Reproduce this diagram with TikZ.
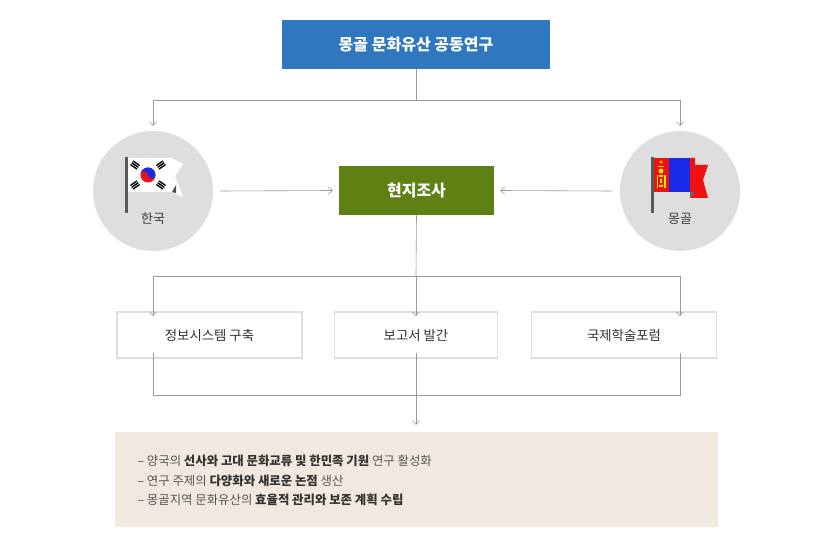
\documentclass[tikz,border=0pt]{standalone}
\usepackage{fontspec}
\setmainfont{Noto Sans CJK KR}
\usetikzlibrary{arrows.meta}
\definecolor{tblue}{HTML}{2F78C0}
\definecolor{tgreen}{HTML}{5F8012}
\definecolor{circ}{HTML}{DEDEDE}
\definecolor{lineg}{HTML}{9A9A9A}
\definecolor{beige}{HTML}{F1E9DF}
\definecolor{txt}{HTML}{555555}
\definecolor{mred}{HTML}{F01010}
\definecolor{mblue}{HTML}{1A2BE8}
\begin{document}
\begin{tikzpicture}[x=1pt,y=-1pt,
 conn/.style={draw=lineg,line width=0.6pt},
 arr/.style={conn,-{Straight Barb[length=4pt,width=7pt]}},
 hbox/.style={minimum width=268pt,minimum height=49pt,inner sep=0pt,text=white,font=\fontsize{16}{18}\selectfont\bfseries},
 wbox/.style={draw=circ,line width=1.6pt,fill=white,minimum width=185pt,minimum height=46pt,inner sep=0pt,text=black!80,font=\fontsize{13.4}{15}\selectfont},
 circle node/.style={circle,fill=circ,minimum size=120pt,inner sep=0pt},
 lbl/.style={font=\fontsize{13}{15}\selectfont,text=black!75},
 sline/.style={anchor=west,text=txt,font=\fontsize{12.4}{14}\selectfont}]
\useasboundingbox (0,0) rectangle (830,548);
\node[hbox,fill=tblue] (top) at (416,44.5) {몽골 문화유산 공동연구};
\node[circle node] (kr) at (153,191) {};
\node[circle node] (mn) at (680,191) {};
\node[hbox,fill=tgreen,minimum width=155pt] (field) at (416.5,190.5) {현지조사};
\node[wbox] (b1) at (209.5,335) {정보시스템 구축};
\node[wbox,minimum width=163pt] (b2) at (416,335) {보고서 발간};
\node[wbox] (b3) at (624,335) {국제학술포럼};
\node[lbl] (krl) at (153,219) {한국};
\node[lbl] (mnl) at (680,219) {몽골};
% Korean flag
\fill[black!65] (125,157) rectangle (128,213);
\fill[white] (128,158) -- (172,158) -- (183,164) -- (175,176) -- (183,197) -- (172,192) -- (128,192) -- cycle;
\fill[black!70] (172,192) -- (176,185) -- (176,193) -- cycle;
\fill[mred] (148,175) circle (7.5);
\fill[mblue] (140.5,175) arc (180:360:7.5) -- (155.5,175) arc (0:180:3.75) arc (0:-180:3.75);
\foreach \x/\y/\r in {135/165/-35,161/165/35,135/185/35,161/185/-35}
  \foreach \d in {-2.2,0,2.2} \fill[black, rotate around={\r:(\x,\y)}] (\x-4,\y+\d-0.7) rectangle (\x+4,\y+\d+0.7);
% Mongolian flag
\fill[black!65] (651,157) rectangle (654,213);
\fill[mred] (654,158) rectangle (669,192);
\fill[mblue] (669,158) rectangle (690,192);
\fill[mred] (690,158) -- (695,158) -- (695,165) -- (708,165) -- (703,180) -- (708,198) -- (690,198) -- cycle;
\fill[black!60] (690,192) -- (695,192) -- (690,198) -- cycle;
\fill[yellow!90!orange] (661,162) circle (1.5);
\fill[yellow!90!orange] (658,166) rectangle (664,167.5);
\fill[yellow!90!orange] (661,171) circle (2.5);
\fill[yellow!90!orange] (656.5,175) rectangle (658,188);
\fill[yellow!90!orange] (664,175) rectangle (665.5,188);
\fill[yellow!90!orange] (659,175) rectangle (663,177) (659,185) rectangle (663,187) (660,179) rectangle (662,183);
% helper coordinates
\coordinate (L) at (153,100);
\coordinate (R) at (680,100);
\coordinate (t0) at (416,100);
\coordinate (m0) at (416,276);
\coordinate (mL) at (153,276);
\coordinate (mR) at (680,276);
\coordinate (bL) at (153,395);
\coordinate (bR) at (680,395);
\coordinate (bT) at (416,425);
\coordinate (kT) at (153,126);
\coordinate (nT) at (680,126);
\coordinate (kE) at (220,191);
\coordinate (nW) at (612,191);
\draw[conn] (top.south) -- (t0);
\draw[conn] (L) -- (R);
\draw[arr] (L) -- (kT);
\draw[arr] (R) -- (nT);
\draw[arr] (kE) -- ([xshift=-6pt]field.west);
\draw[arr] (nW) -- ([xshift=6pt]field.east);
\draw[conn] (field.south) -- (m0);
\draw[conn] (mL) -- (mR);
\draw[arr] (mL) -- ([yshift=-5pt]mL |- b1.north);
\draw[arr] (m0) -- ([yshift=-5pt]b2.north);
\draw[arr] (mR) -- ([yshift=-5pt]mR |- b3.north);
\node[fill=beige,minimum width=603pt,minimum height=95pt,inner sep=0pt] (sum) at (416.5,479.5) {};
\draw[conn] ([yshift=6pt]mL |- b1.south) -- (bL) -- (bR) -- ([yshift=6pt]mR |- b3.south);
\draw[arr] ([yshift=6pt]b2.south) -- (bT);
\node[sline] (s1) at (134,461) {– 양국의 \textbf{\color{black!80}선사와 고대 문화교류 및 한민족 기원} 연구 활성화};
\node[sline] (s2) at (134,481) {– 연구 주제의 \textbf{\color{black!80}다양화와 새로운 논점} 생산};
\node[sline] (s3) at (134,500) {– 몽골지역 문화유산의 \textbf{\color{black!80}효율적 관리와 보존 계획 수립}};
\end{tikzpicture}
\end{document}
